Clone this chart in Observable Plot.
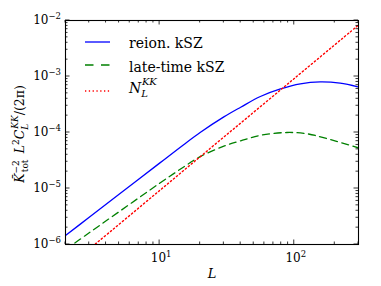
<!DOCTYPE html>
<html><head><meta charset="utf-8">
<script src="https://cdn.jsdelivr.net/npm/d3@7"></script>
<script src="https://cdn.jsdelivr.net/npm/@observablehq/plot@0.6"></script>
<style>body{margin:0;background:#fff} svg{display:block}</style>
</head><body><div id="chart"></div>
<script>
// reion. kSZ
const L_reion = [2, 3, 5, 10, 15, 20, 30, 40, 56, 79, 111, 156, 219, 300];
const reion   = [1.45e-6, 3.06e-6, 7.9e-6, 2.84e-5, 6.0e-5, 1.0e-4, 1.9e-4, 2.83e-4, 4.4e-4, 6.0e-4, 7.4e-4, 8.0e-4, 7.6e-4, 6.5e-4];
// late-time kSZ
const L_late = [2, 3, 5, 10, 15, 20, 30, 40, 56, 88, 124, 174, 300];
const late   = [8.1e-7, 1.62e-6, 3.85e-6, 1.24e-5, 2.4e-5, 3.7e-5, 5.7e-5, 7.1e-5, 8.9e-5, 1.0e-4, 9.5e-5, 7.8e-5, 5.3e-5];
// N_L^KK
const L_noise = [2, 3.3, 10, 30, 100, 300];
const noise   = [3.7e-7, 1.0e-6, 9.2e-6, 8.3e-5, 9.2e-4, 8.3e-3];

const seriesNames = ["reion. kSZ", "late-time kSZ"];
const xTicks = [10, 100];
const xTickExp = ["1", "2"];
const yTicks = [1e-6, 1e-5, 1e-4, 1e-3, 1e-2];
const yTickExp = ["\u22126", "\u22125", "\u22124", "\u22123", "\u22122"];

const reionRows = L_reion.map((L, i) => ({L, v: reion[i]}));
const lateRows = L_late.map((L, i) => ({L, v: late[i]}));
const noiseRows = L_noise.map((L, i) => ({L, v: noise[i]}));

const BLUE = "#0000ff", GREEN = "#008000", RED = "#ff0000";
const FONT = "'DejaVu Serif', 'Liberation Serif', serif";

const plot = Plot.plot({
  width: 381, height: 286,
  marginLeft: 65, marginRight: 23, marginTop: 20, marginBottom: 42,
  x: {type: "log", domain: [2, 300], axis: null},
  y: {type: "log", domain: [1e-6, 1e-2], axis: null},
  style: {background: "#fff"},
  marks: [
    Plot.line(reionRows, {x: "L", y: "v", stroke: BLUE, strokeWidth: 1.3, curve: "catmull-rom", clip: true}),
    Plot.line(lateRows, {x: "L", y: "v", stroke: GREEN, strokeWidth: 1.3, strokeDasharray: "7,4.5", curve: "catmull-rom", clip: true}),
    Plot.line(noiseRows, {x: "L", y: "v", stroke: RED, strokeWidth: 1.4, strokeDasharray: "1.3,2.6", curve: "catmull-rom", clip: true}),
    Plot.frame({stroke: "#000", strokeWidth: 1.1})
  ]
});
document.getElementById("chart").appendChild(plot);

const xs = plot.scale("x"), ys = plot.scale("y");
const X = v => xs.apply(v), Y = v => ys.apply(v);
const svg = d3.select(plot);
const x0 = X(2), x1 = X(300), y0 = Y(1e-6), y1 = Y(1e-2);

const tk = svg.append("g").attr("stroke", "#000").attr("stroke-width", 0.8);
function xt(v, len) {
  tk.append("line").attr("x1", X(v)).attr("x2", X(v)).attr("y1", y0).attr("y2", y0 - len);
  tk.append("line").attr("x1", X(v)).attr("x2", X(v)).attr("y1", y1).attr("y2", y1 + len);
}
function yt(v, len) {
  tk.append("line").attr("y1", Y(v)).attr("y2", Y(v)).attr("x1", x0).attr("x2", x0 + len);
  tk.append("line").attr("y1", Y(v)).attr("y2", Y(v)).attr("x1", x1).attr("x2", x1 - len);
}
for (const d of [1, 10, 100]) for (let m = 1; m <= 9; m++) {
  const v = m * d;
  if (v < 2 || v > 300) continue;
  xt(v, m === 1 ? 4.5 : 2.5);
}
for (let k = -6; k <= -2; k++) for (let m = 1; m <= 9; m++) {
  const v = m * Math.pow(10, k);
  if (v > 1.0001e-2) continue;
  yt(v, m === 1 ? 4.5 : 2.5);
}

const lab = svg.append("g").attr("font-family", FONT).attr("fill", "#000");
yTicks.forEach((v, i) => {
  const t = lab.append("text").attr("x", 61).attr("y", Y(v) + 4.3).attr("text-anchor", "end").attr("font-size", 12);
  t.append("tspan").text("10");
  t.append("tspan").attr("dy", -5.5).attr("font-size", 8.5).text(yTickExp[i]);
});
xTicks.forEach((v, i) => {
  const t = lab.append("text").attr("x", X(v) + 2).attr("y", 262).attr("text-anchor", "middle").attr("font-size", 12);
  t.append("tspan").text("10");
  t.append("tspan").attr("dy", -5.5).attr("font-size", 8.5).text(xTickExp[i]);
});
lab.append("text").attr("x", 212).attr("y", 278).attr("text-anchor", "middle").attr("font-size", 13).attr("font-style", "italic").text("L");

// y label
const yl = lab.append("text").attr("transform", "translate(24,134) rotate(-90)").attr("text-anchor", "middle").attr("font-size", 12.5);
yl.append("tspan").attr("font-style", "italic").text("K\u0304");
yl.append("tspan").attr("font-size", 9).attr("dy", -5.5).text("\u22122");
yl.append("tspan").attr("font-size", 9).attr("dx", -12).attr("dy", 9).text("tot");
yl.append("tspan").attr("dy", -3.5).text("\u2002");
yl.append("tspan").attr("font-style", "italic").text("L");
yl.append("tspan").attr("font-size", 9).attr("dy", -5.5).text("2");
yl.append("tspan").attr("font-style", "italic").attr("dy", 5.5).text("C");
yl.append("tspan").attr("font-size", 9).attr("font-style", "italic").attr("dy", 3.5).text("L");
yl.append("tspan").attr("font-size", 9).attr("font-style", "italic").attr("dx", -5).attr("dy", -9.5).text("KK");
yl.append("tspan").attr("dy", 6).text("/(2\u03c0)");

// legend
const lg = svg.append("g").attr("font-family", FONT).attr("font-size", 14).attr("text-anchor", "start");
lg.append("line").attr("x1", 85).attr("x2", 110).attr("y1", 42).attr("y2", 42).attr("stroke", BLUE).attr("stroke-width", 1.3);
lg.append("text").attr("x", 129).attr("y", 48).text(seriesNames[0]);
lg.append("line").attr("x1", 85).attr("x2", 110).attr("y1", 65).attr("y2", 65).attr("stroke", GREEN).attr("stroke-width", 1.3).attr("stroke-dasharray", "8.5,7.5");
lg.append("text").attr("x", 129).attr("y", 72).text(seriesNames[1]);
lg.append("line").attr("x1", 85).attr("x2", 110).attr("y1", 91).attr("y2", 91).attr("stroke", RED).attr("stroke-width", 1.4).attr("stroke-dasharray", "1.3,2.5");
const nt = lg.append("text").attr("x", 129).attr("y", 93);
nt.append("tspan").attr("font-style", "italic").text("N");
nt.append("tspan").attr("font-style", "italic").attr("font-size", 10).attr("dy", 4).text("L");
nt.append("tspan").attr("font-style", "italic").attr("font-size", 10).attr("dx", -6).attr("dy", -12).text("KK");
</script>
</body></html>
